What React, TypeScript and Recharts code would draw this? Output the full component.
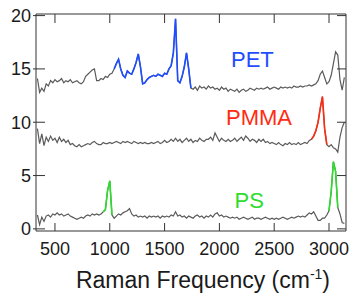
import { LineChart, Line, XAxis, YAxis } from 'recharts';

// Raman shift (cm-1), one sample every 20 cm-1
const shift = [
  340, 360, 380, 400, 420, 440, 460, 480, 500, 520,
  540, 560, 580, 600, 620, 640, 660, 680, 700, 720,
  740, 760, 780, 800, 820, 840, 860, 880, 900, 920,
  940, 960, 980, 1000, 1020, 1040, 1060, 1080, 1100, 1120,
  1140, 1160, 1180, 1200, 1220, 1240, 1260, 1280, 1300, 1320,
  1340, 1360, 1380, 1400, 1420, 1440, 1460, 1480, 1500, 1520,
  1540, 1560, 1580, 1600, 1620, 1640, 1660, 1680, 1700, 1720,
  1740, 1760, 1780, 1800, 1820, 1840, 1860, 1880, 1900, 1920,
  1940, 1960, 1980, 2000, 2020, 2040, 2060, 2080, 2100, 2120,
  2140, 2160, 2180, 2200, 2220, 2240, 2260, 2280, 2300, 2320,
  2340, 2360, 2380, 2400, 2420, 2440, 2460, 2480, 2500, 2520,
  2540, 2560, 2580, 2600, 2620, 2640, 2660, 2680, 2700, 2720,
  2740, 2760, 2780, 2800, 2820, 2840, 2860, 2880, 2900, 2920,
  2940, 2960, 2980, 3000, 3020, 3040, 3060, 3080, 3100, 3120,
  3140,
];

// offset spectra
const pet = [
  14.1, 12.8, 13.2, 12.9, 13.6, 13.4, 13.9, 13.7, 14.0, 13.8,
  13.9, 14.1, 13.7, 13.9, 13.8, 14.0, 13.7, 13.8, 13.9, 13.7,
  13.6, 13.8, 14.3, 14.5, 14.7, 14.9, 15.0, 13.9, 13.9, 14.1,
  14.0, 14.3, 14.2, 14.5, 14.6, 15.0, 15.5, 15.9, 15.0, 14.4,
  14.2, 14.8, 14.6, 14.5, 15.0, 15.6, 16.4, 15.2, 13.6, 13.7,
  14.0, 14.2, 14.3, 14.4, 14.3, 14.5, 14.4, 14.3, 14.6, 14.5,
  15.0, 15.3, 16.5, 19.7, 13.9, 13.7, 14.3, 15.2, 16.5, 15.0,
  13.2, 13.1, 13.3, 13.0, 13.4, 13.2, 13.3, 13.1, 13.4, 13.2,
  13.3, 13.1, 13.2, 13.0, 13.3, 13.1, 13.2, 12.9, 13.1, 13.0,
  12.9, 13.1, 12.8, 13.0, 13.1, 12.9, 13.0, 13.2, 13.1, 13.0,
  13.2, 13.1, 13.2, 13.1, 13.2, 13.3, 13.1, 13.2, 13.3, 13.2,
  13.1, 13.3, 13.2, 13.3, 13.2, 13.3, 13.2, 13.4, 13.3, 13.3,
  13.4, 13.3, 13.4, 13.4, 13.5, 13.4, 13.5, 13.6, 13.9, 14.5,
  14.8, 14.2, 13.6, 13.8, 14.4, 15.5, 16.6, 16.3, 14.0, 13.0,
  14.2,
];

const pmma = [
  9.4, 8.0, 8.9, 7.8, 8.6, 8.2, 8.7, 8.3, 8.5, 8.1,
  8.6, 8.2, 8.4, 8.1, 8.3, 7.9, 8.0, 7.8, 7.7, 7.9,
  7.7, 7.8, 7.9, 8.0, 7.9, 8.1, 8.2, 8.0, 7.9, 7.9,
  8.1, 8.0, 8.0, 8.1, 8.0, 8.1, 8.2, 8.1, 8.0, 8.2,
  8.1, 8.2, 8.1, 8.0, 8.2, 8.1, 8.0, 8.1, 8.0, 8.1,
  8.0, 8.0, 8.1, 8.0, 8.1, 8.2, 8.0, 8.1, 8.3, 8.1,
  8.2, 8.4, 8.2, 8.5, 8.2, 8.4, 8.1, 8.3, 8.5, 8.2,
  8.4, 8.1, 8.3, 8.2, 8.5, 8.3, 8.2, 8.4, 8.4, 8.6,
  8.3, 9.0, 8.6, 8.2, 8.5, 8.3, 8.2, 8.4, 8.2, 8.3,
  8.5, 8.2, 8.4, 8.6, 8.3, 8.7, 8.5, 8.2, 8.4, 8.3,
  8.1, 8.4, 8.2, 8.4, 8.1, 8.2, 8.0, 8.1, 8.0, 7.9,
  8.1, 7.9, 7.8, 8.0, 7.9, 8.1, 7.9, 8.0, 7.9, 8.1,
  7.9, 8.0, 8.1, 8.0, 8.3, 8.4, 8.7, 9.2, 10.0, 11.3,
  12.4, 9.4, 7.9, 7.7, 7.9, 7.6, 7.5, 7.2, 8.6, 9.5,
  10.0,
];

const ps = [
  1.3, 0.4, 1.1, 0.7, 1.2, 1.3, 1.1, 1.4, 1.3, 1.5,
  1.3, 1.4, 1.2, 1.3, 1.4, 1.2, 1.1, 1.0, 0.9, 1.0,
  1.1, 1.0, 1.2, 1.3, 1.2, 1.4, 1.3, 1.4, 1.3, 1.4,
  1.6, 1.8, 3.6, 4.5, 1.3, 1.0, 1.2, 1.4, 1.3, 1.5,
  1.6, 1.7, 1.9, 1.4, 1.2, 1.3, 1.1, 1.2, 1.1, 1.2,
  1.0, 1.2, 1.1, 1.2, 1.1, 1.2, 1.0, 1.2, 1.1, 1.2,
  1.1, 1.3, 1.2, 1.6, 1.2, 1.3, 1.1, 1.2, 1.0, 1.2,
  1.1, 1.0, 1.2, 1.3, 1.1, 1.2, 1.0, 1.2, 1.1, 1.3,
  1.1, 1.4, 1.5, 1.2, 1.3, 1.1, 1.2, 1.1, 1.0, 1.1,
  1.0, 1.1, 0.9, 1.0, 1.1, 1.0, 0.9, 1.0, 1.1, 0.9,
  1.0, 1.0, 0.9, 1.0, 1.1, 1.0, 0.9, 1.0, 0.9, 1.0,
  0.9, 1.0, 1.1, 1.0, 0.9, 1.0, 1.1, 1.0, 1.1, 1.2,
  1.1, 1.2, 1.1, 1.3, 1.5, 1.4, 1.6, 1.2, 0.8, 0.8,
  1.0, 1.0, 1.3, 1.7, 3.5, 6.3, 5.4, 2.0, 1.4, 0.6,
  0.5,
];

// peak regions drawn in colour
const petBand = [1040, 1740];
const pmmaBand = [2840, 2980];
const psBands = [[940, 1020], [3000, 3080]];

const xTicks = [500, 1000, 1500, 2000, 2500, 3000];
const yTicks = [0, 5, 10, 15, 20];

const FONT = '"Liberation Sans", Arial, Helvetica, sans-serif';
const AXIS = '#333';
const INK = '#1a1a1a';
const GRAY = '#5a5a5a';
const BLUE = '#1f4dff';
const RED = '#ff2b12';
const GREEN = '#2edc2e';

const inBand = (x: number, band: number[]) => x >= band[0] && x <= band[1];

const rows = shift.map((x, i) => ({
  x,
  pet: pet[i],
  pmma: pmma[i],
  ps: ps[i],
  petHi: inBand(x, petBand) ? pet[i] : null,
  pmmaHi: inBand(x, pmmaBand) ? pmma[i] : null,
  psHi: psBands.some((b) => inBand(x, b)) ? ps[i] : null,
}));

function BottomTick({ x, y, payload }: any) {
  return (
    <g>
      <line x1={x} y1={y} x2={x} y2={y - 8} stroke={AXIS} />
      <text x={x} y={y + 24} textAnchor="middle" fontSize={18} fontFamily={FONT} fill={INK}>
        {payload.value}
      </text>
    </g>
  );
}

function TopTick({ x, y }: any) {
  return <line x1={x} y1={y} x2={x} y2={y + 9} stroke={AXIS} />;
}

function LeftTick({ x, y, payload }: any) {
  return (
    <g>
      <line x1={x - 3} y1={y} x2={x + 9} y2={y} stroke={AXIS} />
      <text x={x - 5} y={y + 6.5} textAnchor="end" fontSize={18} fontFamily={FONT} fill={INK}>
        {payload.value}
      </text>
    </g>
  );
}

function RightTick({ x, y }: any) {
  return <line x1={x} y1={y} x2={x - 9} y2={y} stroke={AXIS} />;
}

export default function App() {
  return (
    <div style={{ position: 'absolute', left: 0, top: 0, width: 352, height: 296, background: '#fff' }}>
      <LineChart width={352} height={296} data={rows} margin={{ top: 13, right: 5, bottom: 0, left: 0 }}>
        <XAxis
          xAxisId="b"
          dataKey="x"
          type="number"
          domain={[327, 3155]}
          ticks={xTicks}
          allowDataOverflow
          height={65}
          tickSize={0}
          tickMargin={0}
          tickLine={false}
          tick={<BottomTick />}
          stroke={AXIS}
        />
        <XAxis
          xAxisId="t"
          orientation="top"
          dataKey="x"
          type="number"
          domain={[327, 3155]}
          ticks={xTicks}
          allowDataOverflow
          height={1}
          tickSize={0}
          tickMargin={0}
          tickLine={false}
          tick={<TopTick />}
          stroke={AXIS}
        />
        <YAxis
          yAxisId="l"
          type="number"
          domain={[-0.2, 20.15]}
          ticks={yTicks}
          allowDataOverflow
          width={36}
          tickSize={0}
          tickMargin={0}
          tickLine={false}
          tick={<LeftTick />}
          stroke={AXIS}
        />
        <YAxis
          yAxisId="r"
          orientation="right"
          type="number"
          domain={[-0.2, 20.15]}
          ticks={yTicks}
          allowDataOverflow
          width={1}
          tickSize={0}
          tickMargin={0}
          tickLine={false}
          tick={<RightTick />}
          stroke={AXIS}
        />
        {/* invisible series so the mirror axes get drawn */}
        <Line xAxisId="t" yAxisId="r" dataKey="pet" stroke="none" dot={false} activeDot={false} isAnimationActive={false} />
        <Line xAxisId="b" yAxisId="l" dataKey="pet" stroke={GRAY} strokeWidth={1.2} dot={false} isAnimationActive={false} />
        <Line xAxisId="b" yAxisId="l" dataKey="pmma" stroke={GRAY} strokeWidth={1.2} dot={false} isAnimationActive={false} />
        <Line xAxisId="b" yAxisId="l" dataKey="ps" stroke={GRAY} strokeWidth={1.2} dot={false} isAnimationActive={false} />
        <Line xAxisId="b" yAxisId="l" dataKey="petHi" stroke={BLUE} strokeWidth={1.6} dot={false} connectNulls={false} isAnimationActive={false} />
        <Line xAxisId="b" yAxisId="l" dataKey="pmmaHi" stroke={RED} strokeWidth={1.6} dot={false} connectNulls={false} isAnimationActive={false} />
        <Line xAxisId="b" yAxisId="l" dataKey="psHi" stroke={GREEN} strokeWidth={1.6} dot={false} connectNulls={false} isAnimationActive={false} />
      </LineChart>
      <svg
        width={352}
        height={296}
        style={{ position: 'absolute', left: 0, top: 0, pointerEvents: 'none' }}
        fontFamily={FONT}
      >
        <text x={231} y={67} fontSize={22} fill={BLUE}>PET</text>
        <text x={226} y={125} fontSize={22} fill={RED}>PMMA</text>
        <text x={234.5} y={207.5} fontSize={22} fill={GREEN}>PS</text>
        <text x={203} y={288} fontSize={23} fill={INK} textAnchor="middle">
          Raman Frequency (cm
          <tspan fontSize={14} dy={-9}>-1</tspan>
          <tspan dy={9}>)</tspan>
        </text>
      </svg>
    </div>
  );
}
